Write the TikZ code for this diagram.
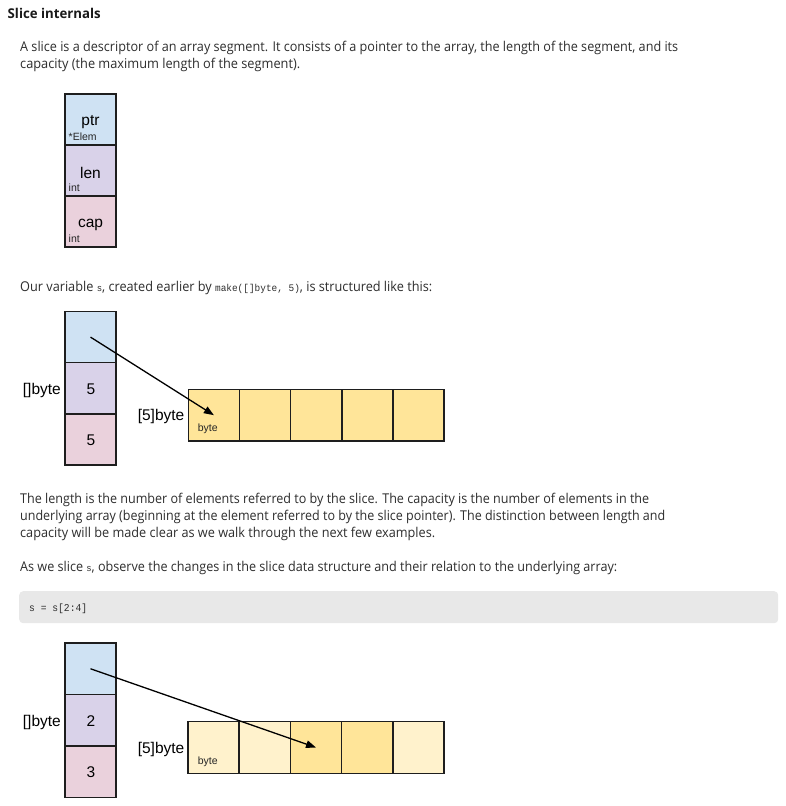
\documentclass[tikz,border=0pt]{standalone}
\usepackage{fontspec}
\usepackage{graphicx}
\setmainfont{Open Sans}
\newfontfamily\arialf{Liberation Sans}
\newfontfamily\monof{Liberation Mono}
\usetikzlibrary{arrows.meta}
\definecolor{cblue}{HTML}{CFE2F3}
\definecolor{cpurple}{HTML}{D9D2E9}
\definecolor{cpink}{HTML}{EAD1DC}
\definecolor{cyellow}{HTML}{FFE599}
\definecolor{clight}{HTML}{FFF2CC}
\definecolor{txt}{HTML}{2E2E2E}
\definecolor{ttl}{HTML}{1A1A1A}
\definecolor{codebg}{HTML}{E8E8E8}
\definecolor{bordc}{HTML}{1E1E1E}
\newcommand\fitw[2]{\resizebox{#1pt}{\height}{#2}}
\tikzset{
  cellbox/.style={draw=bordc, line width=1.5pt, minimum width=51pt, minimum height=#1, inner sep=0pt, outer sep=0pt, anchor=north west},
  cellbox/.default=51pt,
  bodytxt/.style={anchor=base west, inner sep=0pt, text=txt, font=\fontsize{13.5}{15}\selectfont},
  bigl/.style={anchor=base, inner sep=0pt, text=black, font=\arialf\fontsize{15.5}{17}\selectfont},
  sidel/.style={anchor=base east, inner sep=0pt, text=black, font=\arialf\fontsize{15.5}{17}\selectfont},
  smalll/.style={anchor=base west, inner sep=0pt, text=black!85, font=\arialf\fontsize{10.5}{12}\selectfont},
  ptrarrow/.style={draw=black, line width=1.3pt, -{Triangle[length=10pt,width=7.5pt]}},
}
\begin{document}
\begin{tikzpicture}[x=1pt,y=-1pt]
\useasboundingbox[fill=white] (0,0) rectangle (786,806);

% title and text
\node[anchor=base west, inner sep=0pt, text=ttl, font=\bfseries\fontsize{13.5}{15}\selectfont] (title) at (7.5,18.3) {\fitw{93}{Slice internals}};
\node[bodytxt] (p1a) at (20,51.5) {\fitw{658}{A slice is a descriptor of an array segment. It consists of a pointer to the array, the length of the segment, and its}};
\node[bodytxt] (p1b) at (20,68.5) {\fitw{280}{capacity (the maximum length of the segment).}};

% slice header diagram
\node[cellbox, fill=cblue] (h1p) at (65,94) {};
\node[cellbox, fill=cpurple] (h1l) at (65,145) {};
\node[cellbox, fill=cpink] (h1c) at (65,196) {};
\node[bigl] (h1pt) at (90.5,125.5) {ptr};
\node[smalll] (h1ps) at (68.5,140.5) {*Elem};
\node[bigl] (h1lt) at (90.5,178.5) {len};
\node[smalll] (h1ls) at (68.5,191.5) {int};
\node[bigl] (h1ct) at (90.5,227) {cap};
\node[smalll] (h1cs) at (68.5,242) {int};

\node[bodytxt] (p2) at (20,291.5) {\fitw{412}{Our variable {\monof\fontsize{9.5}{12}\selectfont s}, created earlier by {\monof\fontsize{10}{12}\selectfont make([]byte, 5)}, is structured like this:}};

% second diagram
\node[cellbox=51.2pt, fill=cblue] (h2p) at (65,311.5) {};
\node[cellbox=51.2pt, fill=cpurple] (h2l) at (65,362.7) {};
\node[cellbox=51.2pt, fill=cpink] (h2c) at (65,413.9) {};
\node[bigl] (h2lt) at (91,394.5) {5};
\node[bigl] (h2ct) at (91,445) {5};
\node[sidel] (h2name) at (61,394.5) {[]byte};
\foreach \i/\c in {1/cyellow,2/cyellow,3/cyellow,4/cyellow,5/cyellow}{
  \node[cellbox=51.7pt, minimum width=51.15pt, fill=\c] (a2c\i) at ({188.3+51.15*(\i-1)},389.3) {};
}
\node[sidel] (a2name) at (184.5,420.5) {[5]byte};
\node[smalll] (a2t) at (197.7,431.5) {byte};
\draw[ptrarrow] (h2p.center) -- (a2c1.center);

\node[bodytxt] (p3a) at (20,503) {\fitw{629}{The length is the number of elements referred to by the slice. The capacity is the number of elements in the}};
\node[bodytxt] (p3b) at (20,520) {\fitw{645}{underlying array (beginning at the element referred to by the slice pointer). The distinction between length and}};
\node[bodytxt] (p3c) at (20,537) {\fitw{415}{capacity will be made clear as we walk through the next few examples.}};
\node[bodytxt] (p4) at (20,571) {\fitw{597}{As we slice {\monof\fontsize{9.5}{12}\selectfont s}, observe the changes in the slice data structure and their relation to the underlying array:}};

% code block
\node[fill=codebg, rounded corners=4pt, minimum width=759pt, minimum height=32pt, inner sep=0pt, anchor=north west] (code) at (19,591) {};
\node[anchor=base west, inner sep=0pt, text=txt, font=\monof\fontsize{10.5}{12}\selectfont] (codet) at (29,611) {\fitw{58}{s = s[2:4]}};

% third diagram
\node[cellbox=51.5pt, fill=cblue] (h3p) at (65,643) {};
\node[cellbox=51.5pt, fill=cpurple] (h3l) at (65,694.5) {};
\node[cellbox=51.5pt, fill=cpink] (h3c) at (65,746) {};
\node[bigl] (h3lt) at (91,726) {2};
\node[bigl] (h3ct) at (91,777.5) {3};
\node[sidel] (h3name) at (61,726) {[]byte};
\foreach \i/\c in {1/clight,2/clight,3/cyellow,4/cyellow,5/clight}{
  \node[cellbox=51.6pt, minimum width=51.2pt, fill=\c] (a3c\i) at ({188+51.2*(\i-1)},721.7) {};
}
\node[sidel] (a3name) at (184.5,753.5) {[5]byte};
\node[smalll] (a3t) at (197.7,764.5) {byte};
\draw[ptrarrow] (h3p.center) -- (a3c3.center);
\end{tikzpicture}
\end{document}
